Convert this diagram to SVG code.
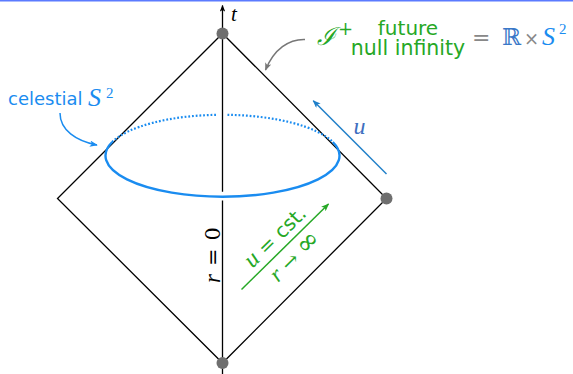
<svg xmlns="http://www.w3.org/2000/svg" width="573" height="374" viewBox="0 0 573 374">
  <style>
    .edge { fill: none; stroke: #000; stroke-width: 1.3; }
    .dot { fill: #6f6f6f; }
    .serif { font-family: "Liberation Serif", "DejaVu Serif", serif; }
    .op { font-family: "DejaVu Serif", "Liberation Serif", serif; font-style: normal; }
    .sans { font-family: "DejaVu Sans", "Liberation Sans", sans-serif; }
    .it { font-style: italic; }
    .green { fill: #26a826; }
    .sky { fill: #1a8cf0; }
    .arrow { fill: none; stroke-width: 1.5; }
  </style>
  <defs>
    <marker id="ah-black" viewBox="0 0 10 8" refX="9" refY="4" markerWidth="7" markerHeight="5.6" markerUnits="userSpaceOnUse" orient="auto">
      <path d="M0,0 L10,4 L0,8 L2.5,4 z" fill="#000"/>
    </marker>
    <marker id="ah-blue" viewBox="0 0 10 8" refX="9" refY="4" markerWidth="8" markerHeight="6.4" markerUnits="userSpaceOnUse" orient="auto">
      <path d="M0,0 L10,4 L0,8 L2.5,4 z" fill="#1f7fc9"/>
    </marker>
    <marker id="ah-sky" viewBox="0 0 10 8" refX="9" refY="4" markerWidth="8" markerHeight="6.4" markerUnits="userSpaceOnUse" orient="auto">
      <path d="M0,0 L10,4 L0,8 L2.5,4 z" fill="#1a8cf0"/>
    </marker>
    <marker id="ah-green" viewBox="0 0 10 8" refX="9" refY="4" markerWidth="8" markerHeight="6.4" markerUnits="userSpaceOnUse" orient="auto">
      <path d="M0,0 L10,4 L0,8 L2.5,4 z" fill="#26a826"/>
    </marker>
    <marker id="ah-gray" viewBox="0 0 10 8" refX="9" refY="4" markerWidth="8" markerHeight="6.4" markerUnits="userSpaceOnUse" orient="auto">
      <path d="M0,0 L10,4 L0,8 L2.5,4 z" fill="#777"/>
    </marker>
  </defs>

  <rect x="0" y="0" width="573" height="1.5" fill="#5b7bff"/>

  <g id="penrose-diamond">
    <path class="edge" d="M222.5,33.5 L386.5,198.5 L222.5,363 L57.5,198.5 Z"/>
  </g>

  <g id="celestial-sphere">
    <path d="M112.2,142 A117,41 0 0 1 217.5,114.8" fill="none" stroke="#1a8cf0" stroke-width="2.2" stroke-dasharray="1.8 1.9"/>
    <path d="M227.5,114.8 A117,41 0 0 1 332.8,142" fill="none" stroke="#1a8cf0" stroke-width="2.2" stroke-dasharray="1.8 1.9"/>
  </g>

  <g id="connectors">
    <path class="edge" d="M222.5,33.5 L222.5,5.5" marker-end="url(#ah-black)"/>
    <path class="edge" d="M222.5,33.5 V191.8 M222.5,200.5 V374"/>
    <path class="arrow" stroke="#1f7fc9" d="M386.5,174 L313.3,100.7" marker-end="url(#ah-blue)"/>
    <path class="arrow" stroke="#26a826" d="M241.5,289.5 L328.5,204" marker-end="url(#ah-green)"/>
    <path class="arrow" stroke="#1a8cf0" d="M60,113 C60,130 76,141 97,145" marker-end="url(#ah-sky)"/>
    <path class="arrow" stroke="#777" d="M305,39.5 C289,39 274,49 265.5,70" marker-end="url(#ah-gray)"/>
  </g>

  <g id="celestial-sphere-front">
    <path d="M112.2,142 A117,41 0 1 0 332.8,142" fill="none" stroke="#1a8cf0" stroke-width="2.4"/>
  </g>

  <g id="node-top">
    <circle class="dot" cx="222.5" cy="33.5" r="6"/>
  </g>
  <g id="node-right">
    <circle class="dot" cx="386.5" cy="198.5" r="6"/>
  </g>
  <g id="node-bottom">
    <circle class="dot" cx="222.5" cy="363" r="6"/>
  </g>

  <g id="label-t">
    <text class="serif it" x="231" y="21" font-size="21">t</text>
  </g>

  <g id="label-scri">
    <text class="serif green" x="317" y="45" font-size="25" font-style="italic">ℐ</text>
    <text class="op green" x="338" y="35" font-size="18">+</text>
    <text class="sans green" x="408" y="34.5" font-size="20" text-anchor="middle">future</text>
    <text class="sans green" x="408" y="55" font-size="20.5" text-anchor="middle">null infinity</text>
    <text class="op" x="472" y="45" font-size="22" fill="#888">=</text>
    <text class="serif" x="502" y="45" font-size="23" fill="#3a78c8">ℝ</text>
    <text class="op" x="524" y="45" font-size="18" fill="#888">×</text>
    <text class="serif it sky" x="542" y="45" font-size="26">S</text>
    <text class="serif sky" x="559" y="33.5" font-size="15">2</text>
  </g>

  <g id="label-celestial">
    <text class="sans sky" x="8" y="105" font-size="18">celestial</text>
    <text class="serif it sky" x="88" y="106" font-size="26">S</text>
    <text class="serif sky" x="106" y="98" font-size="15">2</text>
  </g>

  <g id="label-u">
    <text class="serif it" x="359.5" y="134" font-size="24" fill="#3f6fc0" text-anchor="middle">u</text>
  </g>

  <g id="label-r0">
    <text transform="translate(219.5,255) rotate(-90)" font-size="21" text-anchor="middle" textLength="56" lengthAdjust="spacing"><tspan class="serif it" font-size="23">r</tspan><tspan class="op"> = 0</tspan></text>
  </g>

  <g id="label-ucst" transform="translate(285,246.75) rotate(-44.5)">
    <text class="green" x="0" y="-7" font-size="20" text-anchor="middle"><tspan class="serif it" font-size="24">u</tspan><tspan class="op"> = </tspan><tspan class="sans" font-size="20">cst.</tspan></text>
    <text class="green" x="0" y="21" font-size="20" text-anchor="middle"><tspan class="serif it" font-size="23">r</tspan><tspan class="op"> → </tspan><tspan class="op" font-size="27">∞</tspan></text>
  </g>
</svg>
